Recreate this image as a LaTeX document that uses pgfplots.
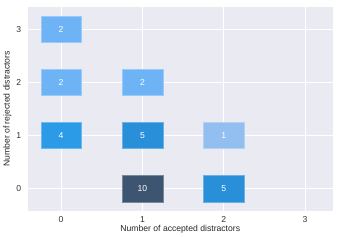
\documentclass[border=0pt]{standalone}
\usepackage{pgfplots}
\pgfplotsset{compat=1.18}
\usepackage{fontspec}
\setmainfont{Liberation Sans}
\definecolor{bg}{HTML}{EAEAF2}
\definecolor{c10}{HTML}{3D5570}
\definecolor{c5}{HTML}{2A8FD9}
\definecolor{c4}{HTML}{2B9BE8}
\definecolor{c2}{HTML}{6DB3F5}
\definecolor{c1}{HTML}{93BEF0}
\newcommand{\cell}[3]{%
  \addplot[fill=#3, draw=#3!70!white, line width=0.5pt] coordinates {(#1-0.25,#2-0.25) (#1+0.25,#2-0.25) (#1+0.25,#2+0.25) (#1-0.25,#2+0.25)} -- cycle;}
\begin{document}
\begin{tikzpicture}
\begin{axis}[
  name=ax,
  scale only axis,
  width=301pt, height=201pt,
  xmin=-0.41, xmax=3.34, ymin=-0.42, ymax=3.42,
  axis background/.style={fill=bg},
  axis line style={draw=none},
  xtick={0,1,2,3}, ytick={0,1,2,3},
  grid=major,
  major grid style={white, line width=0.9pt},
  tick style={draw=none},
  ticklabel style={font=\fontsize{8.5}{10}\selectfont, text=black!80},
  xticklabel style={yshift=-2pt},
  yticklabel style={xshift=-3pt},
  /pgf/number format/assume math mode=true,
  xlabel={Number of accepted distractors},
  ylabel={Number of rejected distractors},
  label style={font=\fontsize{8.5}{10}\selectfont, text=black!85},
  xlabel shift=-4pt,
  ylabel shift=-2pt,
  clip=false,
]
\cell{0}{3}{c2}
\cell{0}{2}{c2}
\cell{1}{2}{c2}
\cell{0}{1}{c4}
\cell{1}{1}{c5}
\cell{2}{1}{c1}
\cell{1}{0}{c10}
\cell{2}{0}{c5}
\addplot[only marks, mark=none, point meta=explicit symbolic,
  nodes near coords, nodes near coords align=center,
  nodes near coords style={font=\fontsize{8.5}{10}\selectfont, text=white, anchor=center}]
  table[meta=n] {
x y n
0 3 2
0 2 2
1 2 2
0 1 4
1 1 5
2 1 1
1 0 10
2 0 5
};
\end{axis}
\path (ax.north east) ++(16pt,7pt);
\end{tikzpicture}
\end{document}
